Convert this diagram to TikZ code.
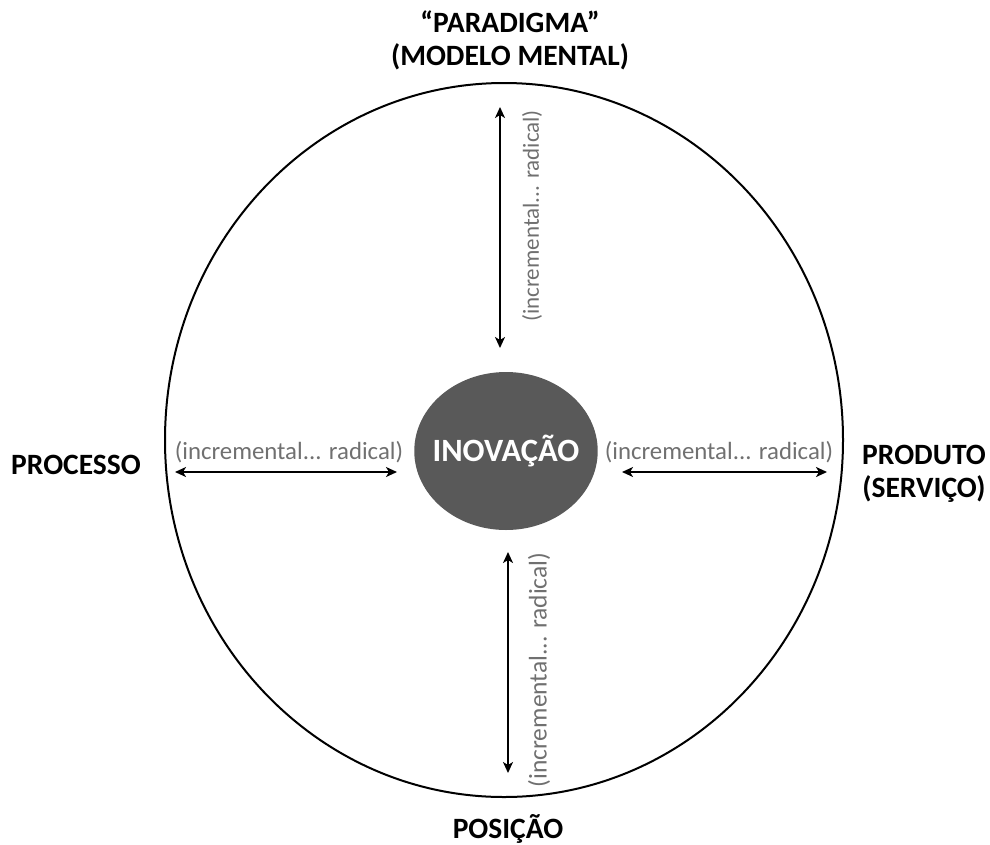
\documentclass[tikz,border=0pt]{standalone}
\usepackage{fontspec}
\setmainfont{Carlito}
\usetikzlibrary{positioning,arrows.meta,shapes.geometric}
\definecolor{labelgray}{HTML}{707070}
\definecolor{coregray}{HTML}{595959}
\begin{document}
\begin{tikzpicture}[x=1pt,y=-1pt,
    dim/.style={font=\fontsize{29.5}{33}\selectfont\bfseries, align=center, inner sep=0pt},
    axislabel/.style={text=labelgray, font=\fontsize{24.8}{29}\selectfont, inner sep=0pt},
    axis/.style={{Stealth[length=11pt,width=10pt,inset=3pt]}-{Stealth[length=11pt,width=10pt,inset=3pt]}, line width=1.8pt}]
        \useasboundingbox (0,0) rectangle (990,844);
        \draw[line width=2pt] (504,440) ellipse [x radius=339, y radius=357];
        \node[ellipse, fill=coregray, minimum height=158pt, inner xsep=-8.5pt, inner ysep=0pt,
              text=white, font=\fontsize{32.5}{36}\selectfont\bfseries] (inov) at (506,451) {INOVAÇÃO};

        \node[dim] (parad) at (510,40) {“PARADIGMA”\\(MODELO MENTAL)};
        \node[dim] (proc) at (76,465) {PROCESSO};
        \node[dim] (prod) at (924,474) {PRODUTO\\(SERVIÇO)};
        \node[dim] (pos) at (508,829) {POSIÇÃO};

        \coordinate (t1) at (500,107);
        \coordinate (t2) at (500,348);
        \coordinate (b1) at (508,552);
        \coordinate (b2) at (508,773);
        \coordinate (l1) at (175,472);
        \coordinate (l2) at (397,472);
        \coordinate (r1) at (622,472);
        \coordinate (r2) at (827,472);

        \draw[axis] (t1) -- node[axislabel, font=\fontsize{23}{27}\selectfont, xshift=32pt, yshift=11.5pt, rotate=90] {(incremental... radical)} (t2);
        \draw[axis] (b1) -- node[axislabel, font=\fontsize{25.5}{29}\selectfont, xshift=31pt, yshift=-7.5pt, rotate=90] {(incremental... radical)} (b2);
        \draw[axis] (l1) -- node[axislabel, xshift=3pt, yshift=20pt] {(incremental... radical)} (l2);
        \draw[axis] (r1) -- node[axislabel, xshift=-5.5pt, yshift=20pt] {(incremental... radical)} (r2);
    \end{tikzpicture}
\end{document}
